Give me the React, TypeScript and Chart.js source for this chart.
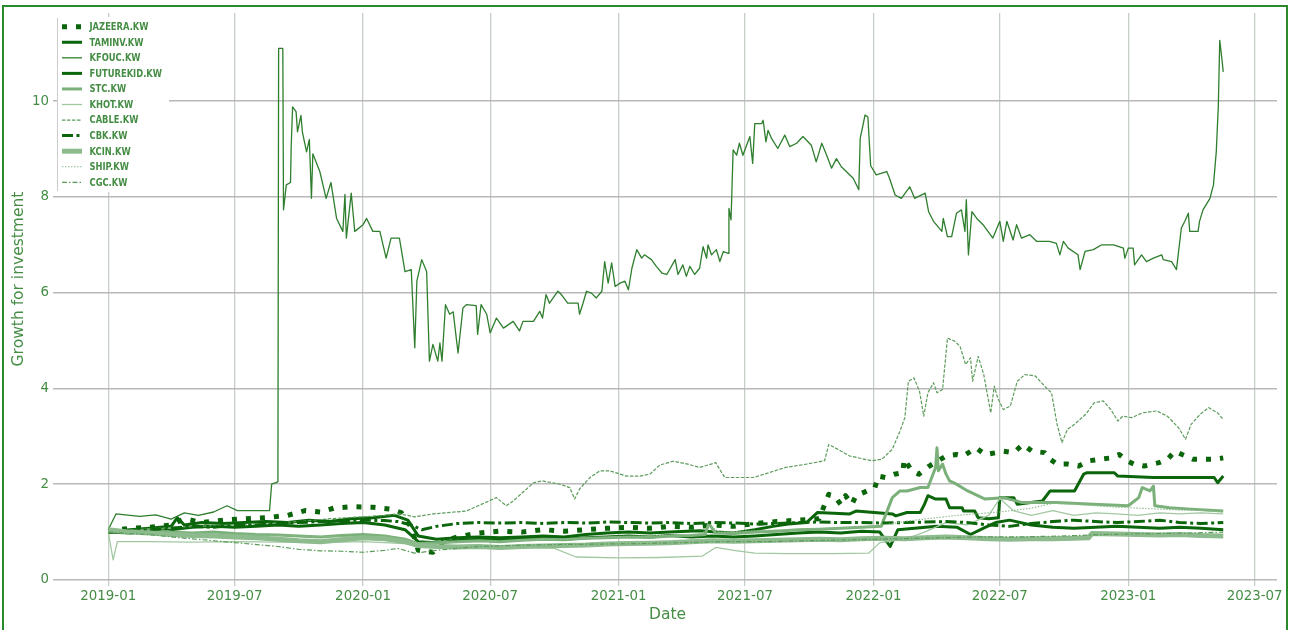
import React, { useEffect, useRef } from 'react';
import { Chart, registerables } from 'chart.js';

Chart.register(...registerables);

// ---------- data ----------
const X_TICKS = ['2019-01', '2019-07', '2020-01', '2020-07', '2021-01', '2021-07', '2022-01', '2022-07', '2023-01', '2023-07'];
const Y_TICKS = [0, 2, 4, 6, 8, 10];
const X_RANGE = ['2018-10-21', '2023-08-02'];
const Y_RANGE = [0, 11.84];

const SERIES_NAMES = ['JAZEERA.KW', 'TAMINV.KW', 'KFOUC.KW', 'FUTUREKID.KW', 'STC.KW', 'KHOT.KW', 'CABLE.KW', 'CBK.KW', 'KCIN.KW', 'SHIP.KW', 'CGC.KW'];

type P = [string, number];

const JAZEERA: P[] = [
  ['2019-01-01', 1.02], ['2019-02-01', 1.08], ['2019-03-01', 1.1], ['2019-04-01', 1.15], ['2019-04-20', 1.28], ['2019-05-15', 1.2],
  ['2019-06-15', 1.25], ['2019-07-15', 1.28], ['2019-08-15', 1.3], ['2019-09-15', 1.35], ['2019-10-10', 1.45], ['2019-11-01', 1.42],
  ['2019-11-20', 1.5], ['2019-12-15', 1.53], ['2020-01-15', 1.52], ['2020-02-10', 1.48], ['2020-02-25', 1.4], ['2020-03-10', 1.1],
  ['2020-03-20', 0.62], ['2020-04-10', 0.58], ['2020-04-25', 0.8], ['2020-05-15', 0.9], ['2020-06-15', 0.98], ['2020-07-15', 1.02],
  ['2020-08-15', 1.0], ['2020-09-15', 1.05], ['2020-10-15', 1.02], ['2020-11-15', 1.05], ['2020-12-15', 1.08], ['2021-01-15', 1.1],
  ['2021-02-15', 1.08], ['2021-03-15', 1.12], ['2021-04-15', 1.1], ['2021-05-15', 1.15], ['2021-06-15', 1.12], ['2021-07-15', 1.18],
  ['2021-08-15', 1.22], ['2021-09-15', 1.25], ['2021-10-15', 1.28], ['2021-10-29', 1.79], ['2021-11-07', 1.74], ['2021-11-15', 1.58],
  ['2021-11-22', 1.76], ['2021-12-01', 1.58], ['2021-12-07', 1.76], ['2022-01-03', 1.93], ['2022-01-08', 2.17], ['2022-01-18', 2.14],
  ['2022-01-31', 2.21], ['2022-02-12', 2.24], ['2022-02-14', 2.52], ['2022-02-25', 2.28], ['2022-03-07', 2.21], ['2022-03-22', 2.38],
  ['2022-04-15', 2.59], ['2022-04-30', 2.62], ['2022-05-10', 2.59], ['2022-05-28', 2.76], ['2022-06-10', 2.62], ['2022-06-26', 2.66],
  ['2022-07-06', 2.69], ['2022-07-21', 2.66], ['2022-08-03', 2.83], ['2022-08-16', 2.69], ['2022-09-03', 2.66], ['2022-09-11', 2.52],
  ['2022-09-21', 2.42], ['2022-10-06', 2.42], ['2022-10-22', 2.38], ['2022-11-06', 2.49], ['2022-11-21', 2.52], ['2022-12-07', 2.55],
  ['2022-12-19', 2.62], ['2022-12-30', 2.49], ['2023-01-09', 2.42], ['2023-01-24', 2.38], ['2023-02-14', 2.45], ['2023-02-26', 2.52],
  ['2023-03-09', 2.69], ['2023-03-19', 2.62], ['2023-04-04', 2.52], ['2023-04-19', 2.52], ['2023-05-04', 2.52], ['2023-05-17', 2.55],
];

const TAMINV: P[] = [
  ['2019-01-01', 1.0], ['2019-02-01', 1.05], ['2019-03-01', 1.08], ['2019-04-01', 1.12], ['2019-04-10', 1.3], ['2019-04-20', 1.15],
  ['2019-05-15', 1.2], ['2019-06-15', 1.18], ['2019-07-15', 1.2], ['2019-08-15', 1.22], ['2019-09-15', 1.2], ['2019-10-15', 1.25],
  ['2019-11-15', 1.22], ['2019-12-15', 1.28], ['2020-01-15', 1.3], ['2020-02-15', 1.35], ['2020-03-05', 1.25], ['2020-03-20', 0.92],
  ['2020-04-15', 0.85], ['2020-05-15', 0.88], ['2020-06-15', 0.9], ['2020-07-15', 0.88], ['2020-08-15', 0.9], ['2020-09-15', 0.92],
  ['2020-10-15', 0.9], ['2020-11-15', 0.95], ['2020-12-15', 0.98], ['2021-01-15', 1.0], ['2021-02-15', 0.98], ['2021-03-15', 1.0],
  ['2021-04-27', 1.03], ['2021-05-20', 1.0], ['2021-06-15', 0.98], ['2021-07-15', 1.05], ['2021-08-10', 1.12], ['2021-09-01', 1.17],
  ['2021-09-27', 1.2], ['2021-10-13', 1.41], ['2021-11-28', 1.38], ['2021-12-07', 1.44], ['2022-01-28', 1.38], ['2022-02-02', 1.34],
  ['2022-02-18', 1.41], ['2022-03-09', 1.41], ['2022-03-15', 1.58], ['2022-03-20', 1.76], ['2022-03-31', 1.69], ['2022-04-15', 1.69],
  ['2022-04-20', 1.51], ['2022-05-08', 1.51], ['2022-05-10', 1.44], ['2022-05-26', 1.44], ['2022-05-31', 1.3], ['2022-06-15', 1.28],
  ['2022-06-29', 1.3], ['2022-07-01', 1.72], ['2022-07-21', 1.72], ['2022-07-26', 1.58], ['2022-08-31', 1.65], ['2022-09-11', 1.86],
  ['2022-10-16', 1.86], ['2022-10-29', 2.21], ['2022-11-03', 2.24], ['2022-12-12', 2.24], ['2022-12-17', 2.17], ['2023-02-06', 2.14],
  ['2023-05-04', 2.14], ['2023-05-09', 2.03], ['2023-05-17', 2.17],
];

const KFOUC: P[] = [
  ['2019-01-01', 1.05], ['2019-01-12', 1.38], ['2019-02-15', 1.33], ['2019-03-10', 1.36], ['2019-04-01', 1.27], ['2019-04-20', 1.4],
  ['2019-05-10', 1.35], ['2019-06-01', 1.42], ['2019-06-20', 1.55], ['2019-07-05', 1.45], ['2019-07-25', 1.45], ['2019-08-20', 1.45],
  ['2019-08-23', 2.0], ['2019-09-01', 2.05], ['2019-09-02', 11.1], ['2019-09-08', 11.1], ['2019-09-09', 7.73], ['2019-09-13', 8.25],
  ['2019-09-19', 8.3], ['2019-09-20', 9.05], ['2019-09-22', 9.88], ['2019-09-27', 9.78], ['2019-09-29', 9.36], ['2019-10-04', 9.7],
  ['2019-10-06', 9.36], ['2019-10-12', 8.94], ['2019-10-16', 9.2], ['2019-10-19', 7.97], ['2019-10-21', 8.9], ['2019-10-31', 8.53],
  ['2019-11-09', 7.97], ['2019-11-16', 8.3], ['2019-11-24', 7.55], ['2019-12-03', 7.28], ['2019-12-06', 8.05], ['2019-12-08', 7.14],
  ['2019-12-15', 8.08], ['2019-12-20', 7.28], ['2020-01-01', 7.42], ['2020-01-06', 7.55], ['2020-01-15', 7.28], ['2020-01-25', 7.28],
  ['2020-02-03', 6.72], ['2020-02-10', 7.14], ['2020-02-22', 7.14], ['2020-03-01', 6.44], ['2020-03-10', 6.48], ['2020-03-15', 4.85],
  ['2020-03-18', 6.24], ['2020-03-25', 6.69], ['2020-04-01', 6.44], ['2020-04-05', 4.57], ['2020-04-10', 4.92], ['2020-04-17', 4.57],
  ['2020-04-20', 4.95], ['2020-04-23', 4.57], ['2020-04-28', 5.75], ['2020-05-04', 5.55], ['2020-05-09', 5.6], ['2020-05-16', 4.74],
  ['2020-05-23', 5.68], ['2020-05-28', 5.75], ['2020-06-11', 5.73], ['2020-06-13', 5.13], ['2020-06-18', 5.75], ['2020-06-26', 5.55],
  ['2020-07-01', 5.16], ['2020-07-10', 5.47], ['2020-07-20', 5.26], ['2020-08-03', 5.4], ['2020-08-12', 5.2], ['2020-08-17', 5.4],
  ['2020-09-01', 5.4], ['2020-09-10', 5.61], ['2020-09-14', 5.47], ['2020-09-19', 5.96], ['2020-09-24', 5.78], ['2020-10-06', 6.03],
  ['2020-10-11', 5.96], ['2020-10-20', 5.78], ['2020-11-04', 5.78], ['2020-11-06', 5.55], ['2020-11-11', 5.78], ['2020-11-16', 6.03],
  ['2020-11-23', 5.99], ['2020-11-30', 5.89], ['2020-12-08', 6.03], ['2020-12-12', 6.65], ['2020-12-17', 6.2], ['2020-12-22', 6.62],
  ['2020-12-27', 6.13], ['2021-01-03', 6.2], ['2021-01-10', 6.24], ['2021-01-15', 6.06], ['2021-01-20', 6.51], ['2021-01-27', 6.9],
  ['2021-02-03', 6.72], ['2021-02-07', 6.79], ['2021-02-17', 6.69], ['2021-02-24', 6.55], ['2021-03-04', 6.41], ['2021-03-11', 6.38],
  ['2021-03-23', 6.69], ['2021-03-27', 6.38], ['2021-04-03', 6.58], ['2021-04-08', 6.34], ['2021-04-13', 6.55], ['2021-04-20', 6.38],
  ['2021-04-27', 6.51], ['2021-05-02', 6.96], ['2021-05-07', 6.72], ['2021-05-09', 7.0], ['2021-05-14', 6.79], ['2021-05-21', 6.9],
  ['2021-05-26', 6.65], ['2021-05-31', 6.86], ['2021-06-07', 6.82], ['2021-06-08', 7.76], ['2021-06-11', 7.52], ['2021-06-14', 8.98],
  ['2021-06-19', 8.87], ['2021-06-23', 9.12], ['2021-06-28', 8.87], ['2021-07-08', 9.26], ['2021-07-12', 8.7], ['2021-07-15', 9.53],
  ['2021-07-25', 9.53], ['2021-07-27', 9.6], ['2021-07-31', 9.15], ['2021-08-03', 9.39], ['2021-08-08', 9.22], ['2021-08-17', 9.01],
  ['2021-08-27', 9.29], ['2021-09-03', 9.05], ['2021-09-13', 9.12], ['2021-09-22', 9.26], ['2021-10-04', 9.08], ['2021-10-11', 8.73],
  ['2021-10-19', 9.12], ['2021-10-26', 8.87], ['2021-11-02', 8.6], ['2021-11-09', 8.8], ['2021-11-16', 8.63], ['2021-11-26', 8.49],
  ['2021-12-03', 8.39], ['2021-12-11', 8.15], ['2021-12-13', 9.22], ['2021-12-20', 9.71], ['2021-12-24', 9.67], ['2021-12-28', 8.65],
  ['2022-01-05', 8.46], ['2022-01-20', 8.53], ['2022-01-24', 8.39], ['2022-02-01', 8.04], ['2022-02-10', 7.97], ['2022-02-22', 8.21],
  ['2022-03-01', 7.97], ['2022-03-16', 8.08], ['2022-03-21', 7.69], ['2022-03-28', 7.49], ['2022-04-09', 7.28], ['2022-04-11', 7.55],
  ['2022-04-17', 7.17], ['2022-04-23', 7.17], ['2022-04-30', 7.66], ['2022-05-07', 7.73], ['2022-05-12', 7.28], ['2022-05-14', 7.94],
  ['2022-05-17', 6.79], ['2022-05-22', 7.69], ['2022-05-29', 7.55], ['2022-06-07', 7.42], ['2022-06-14', 7.28], ['2022-06-21', 7.14],
  ['2022-07-01', 7.49], ['2022-07-06', 7.07], ['2022-07-11', 7.49], ['2022-07-20', 7.1], ['2022-07-25', 7.42], ['2022-08-01', 7.14],
  ['2022-08-13', 7.21], ['2022-08-23', 7.07], ['2022-09-10', 7.07], ['2022-09-20', 7.03], ['2022-09-25', 6.79], ['2022-09-30', 7.07],
  ['2022-10-07', 6.93], ['2022-10-21', 6.79], ['2022-10-24', 6.48], ['2022-10-31', 6.86], ['2022-11-12', 6.9], ['2022-11-24', 7.0],
  ['2022-12-11', 7.0], ['2022-12-25', 6.93], ['2022-12-27', 6.72], ['2023-01-01', 6.93], ['2023-01-08', 6.93], ['2023-01-10', 6.58],
  ['2023-01-20', 6.79], ['2023-01-27', 6.65], ['2023-02-06', 6.72], ['2023-02-18', 6.79], ['2023-02-20', 6.69], ['2023-03-04', 6.65],
  ['2023-03-11', 6.48], ['2023-03-18', 7.35], ['2023-03-23', 7.49], ['2023-03-28', 7.66], ['2023-03-30', 7.28], ['2023-04-11', 7.28],
  ['2023-04-13', 7.49], ['2023-04-18', 7.73], ['2023-04-28', 7.97], ['2023-05-03', 8.25], ['2023-05-07', 8.94], ['2023-05-10', 9.92],
  ['2023-05-12', 11.27], ['2023-05-15', 10.89], ['2023-05-17', 10.61],
];

const FUTUREKID: P[] = [
  ['2019-01-01', 1.0], ['2019-02-01', 0.98], ['2019-03-01', 1.02], ['2019-04-01', 1.05], ['2019-05-01', 1.1], ['2019-06-01', 1.12],
  ['2019-07-01', 1.1], ['2019-08-01', 1.12], ['2019-09-01', 1.15], ['2019-10-01', 1.12], ['2019-11-01', 1.15], ['2019-12-01', 1.18],
  ['2020-01-01', 1.2], ['2020-02-01', 1.15], ['2020-03-01', 1.05], ['2020-03-20', 0.8], ['2020-04-15', 0.78], ['2020-05-15', 0.82],
  ['2020-06-15', 0.85], ['2020-07-15', 0.83], ['2020-08-15', 0.85], ['2020-09-15', 0.87], ['2020-10-15', 0.85], ['2020-11-15', 0.88],
  ['2020-12-15', 0.9], ['2021-01-15', 0.92], ['2021-02-15', 0.9], ['2021-03-15', 0.93], ['2021-04-15', 0.9], ['2021-05-15', 0.92],
  ['2021-06-15', 0.9], ['2021-07-15', 0.92], ['2021-08-15', 0.95], ['2021-09-15', 0.98], ['2021-10-15', 1.0], ['2021-11-15', 0.98],
  ['2021-12-15', 1.02], ['2022-01-10', 1.0], ['2022-01-25', 0.7], ['2022-02-05', 1.05], ['2022-03-01', 1.08], ['2022-04-01', 1.12],
  ['2022-05-01', 1.1], ['2022-05-20', 0.95], ['2022-06-10', 1.1], ['2022-06-25', 1.2], ['2022-07-15', 1.25], ['2022-08-15', 1.15],
  ['2022-09-15', 1.1], ['2022-10-15', 1.08], ['2022-11-15', 1.1], ['2022-12-15', 1.12], ['2023-01-15', 1.1], ['2023-02-15', 1.08],
  ['2023-03-15', 1.1], ['2023-04-15', 1.08], ['2023-05-17', 1.05],
];

const STC: P[] = [
  ['2019-01-01', 1.0], ['2019-02-01', 1.02], ['2019-03-01', 1.05], ['2019-04-01', 1.0], ['2019-05-01', 0.98], ['2019-06-01', 1.0],
  ['2019-07-01', 0.97], ['2019-08-01', 0.95], ['2019-09-01', 0.94], ['2019-10-01', 0.92], ['2019-11-01', 0.9], ['2019-12-01', 0.93],
  ['2020-01-01', 0.95], ['2020-02-01', 0.92], ['2020-03-01', 0.85], ['2020-03-20', 0.76], ['2020-04-15', 0.78], ['2020-05-15', 0.8],
  ['2020-06-15', 0.82], ['2020-07-15', 0.8], ['2020-08-15', 0.83], ['2020-09-15', 0.85], ['2020-10-15', 0.84], ['2020-11-15', 0.87],
  ['2020-12-15', 0.88], ['2021-01-15', 0.9], ['2021-02-15', 0.89], ['2021-03-15', 0.92], ['2021-04-15', 0.93], ['2021-05-05', 0.95],
  ['2021-05-10', 1.18], ['2021-05-20', 0.98], ['2021-06-15', 0.97], ['2021-07-15', 1.0], ['2021-08-15', 1.02], ['2021-09-15', 1.05],
  ['2021-10-15', 1.06], ['2021-11-15', 1.08], ['2021-12-15', 1.1], ['2022-01-12', 1.12], ['2022-01-28', 1.72], ['2022-02-08', 1.86],
  ['2022-02-18', 1.86], ['2022-03-09', 1.93], ['2022-03-20', 1.93], ['2022-03-31', 2.35], ['2022-04-02', 2.76], ['2022-04-04', 2.28],
  ['2022-04-10', 2.42], ['2022-04-15', 2.21], ['2022-04-20', 2.07], ['2022-04-30', 2.0], ['2022-05-16', 1.86], ['2022-06-10', 1.69],
  ['2022-07-06', 1.72], ['2022-08-01', 1.62], ['2022-09-21', 1.62], ['2022-11-12', 1.58], ['2023-01-01', 1.55], ['2023-01-16', 1.72],
  ['2023-01-21', 1.93], ['2023-02-01', 1.86], ['2023-02-06', 1.96], ['2023-02-08', 1.55], ['2023-03-01', 1.51], ['2023-04-01', 1.48],
  ['2023-05-17', 1.44],
];

const KHOT: P[] = [
  ['2019-01-01', 1.0], ['2019-01-08', 0.42], ['2019-01-14', 0.8], ['2019-03-01', 0.8], ['2019-05-01', 0.79], ['2019-07-01', 0.8],
  ['2019-09-01', 0.79], ['2019-11-01', 0.78], ['2020-01-01', 0.8], ['2020-03-01', 0.76], ['2020-04-01', 0.7], ['2020-06-01', 0.72],
  ['2020-08-01', 0.7], ['2020-10-01', 0.66], ['2020-11-01', 0.48], ['2021-01-01', 0.46], ['2021-03-01', 0.47], ['2021-05-01', 0.5],
  ['2021-05-20', 0.68], ['2021-06-15', 0.62], ['2021-07-15', 0.56], ['2021-09-01', 0.55], ['2021-11-01', 0.55], ['2021-12-25', 0.56],
  ['2022-01-10', 0.78], ['2022-02-15', 0.85], ['2022-03-15', 1.0], ['2022-04-15', 1.2], ['2022-05-15', 1.15], ['2022-06-15', 1.35],
  ['2022-07-01', 1.7], ['2022-07-20', 1.45], ['2022-08-15', 1.35], ['2022-09-15', 1.45], ['2022-10-15', 1.35], ['2022-11-15', 1.4],
  ['2022-12-15', 1.38], ['2023-01-15', 1.35], ['2023-02-15', 1.4], ['2023-03-15', 1.38], ['2023-04-15', 1.4], ['2023-05-17', 1.38],
];

const CABLE: P[] = [
  ['2019-01-01', 1.0], ['2019-02-15', 1.05], ['2019-04-01', 1.1], ['2019-05-15', 1.12], ['2019-07-01', 1.15], ['2019-08-15', 1.18],
  ['2019-10-01', 1.22], ['2019-11-15', 1.28], ['2020-01-01', 1.32], ['2020-02-01', 1.35], ['2020-02-22', 1.38], ['2020-03-15', 1.32],
  ['2020-04-10', 1.38], ['2020-05-28', 1.44], ['2020-06-20', 1.59], ['2020-07-10', 1.72], ['2020-07-24', 1.55], ['2020-08-03', 1.65],
  ['2020-09-01', 2.03], ['2020-09-14', 2.07], ['2020-10-09', 2.0], ['2020-10-23', 1.93], ['2020-10-30', 1.69], ['2020-11-06', 1.9],
  ['2020-11-21', 2.14], ['2020-12-05', 2.28], ['2020-12-19', 2.28], ['2021-01-12', 2.17], ['2021-01-31', 2.17], ['2021-02-15', 2.21],
  ['2021-03-01', 2.4], ['2021-03-20', 2.48], ['2021-04-10', 2.42], ['2021-04-27', 2.35], ['2021-05-20', 2.45], ['2021-06-02', 2.14],
  ['2021-07-13', 2.14], ['2021-08-28', 2.35], ['2021-09-27', 2.42], ['2021-10-23', 2.49], ['2021-10-29', 2.83], ['2021-11-07', 2.76],
  ['2021-11-28', 2.59], ['2021-12-29', 2.49], ['2022-01-13', 2.52], ['2022-01-28', 2.73], ['2022-02-08', 3.11], ['2022-02-15', 3.39],
  ['2022-02-20', 4.15], ['2022-02-28', 4.22], ['2022-03-08', 3.94], ['2022-03-14', 3.42], ['2022-03-20', 3.91], ['2022-03-28', 4.12],
  ['2022-04-02', 3.91], ['2022-04-10', 3.98], ['2022-04-17', 5.05], ['2022-04-27', 4.99], ['2022-05-05', 4.88], ['2022-05-13', 4.5],
  ['2022-05-20', 4.64], ['2022-05-23', 4.15], ['2022-05-31', 4.67], ['2022-06-08', 4.29], ['2022-06-18', 3.49], ['2022-06-23', 4.05],
  ['2022-06-28', 3.8], ['2022-07-06', 3.56], ['2022-07-16', 3.63], ['2022-07-26', 4.15], ['2022-08-06', 4.29], ['2022-08-21', 4.26],
  ['2022-09-03', 4.05], ['2022-09-13', 3.91], ['2022-09-21', 3.25], ['2022-09-28', 2.87], ['2022-10-06', 3.15], ['2022-10-16', 3.25],
  ['2022-11-01', 3.46], ['2022-11-13', 3.7], ['2022-11-26', 3.74], ['2022-12-07', 3.56], ['2022-12-17', 3.32], ['2022-12-24', 3.42],
  ['2023-01-06', 3.39], ['2023-01-21', 3.49], ['2023-02-11', 3.53], ['2023-02-26', 3.42], ['2023-03-14', 3.18], ['2023-03-24', 2.94],
  ['2023-04-01', 3.25], ['2023-04-14', 3.46], ['2023-04-26', 3.6], ['2023-05-09', 3.49], ['2023-05-17', 3.35],
];

const CBK: P[] = [
  ['2019-01-01', 1.0], ['2019-02-01', 1.02], ['2019-03-01', 1.05], ['2019-04-01', 1.08], ['2019-05-01', 1.12], ['2019-06-01', 1.1],
  ['2019-07-01', 1.14], ['2019-08-01', 1.15], ['2019-09-01', 1.18], ['2019-10-01', 1.2], ['2019-11-01', 1.22], ['2019-12-01', 1.24],
  ['2020-01-01', 1.25], ['2020-02-01', 1.24], ['2020-02-20', 1.22], ['2020-03-10', 1.15], ['2020-03-25', 1.05], ['2020-04-15', 1.12],
  ['2020-05-15', 1.18], ['2020-06-15', 1.2], ['2020-07-15', 1.19], ['2020-08-15', 1.2], ['2020-09-15', 1.18], ['2020-10-15', 1.2],
  ['2020-11-15', 1.19], ['2020-12-15', 1.21], ['2021-01-15', 1.2], ['2021-02-15', 1.19], ['2021-03-15', 1.2], ['2021-04-15', 1.18],
  ['2021-05-15', 1.2], ['2021-06-15', 1.19], ['2021-07-15', 1.17], ['2021-08-15', 1.18], ['2021-09-15', 1.2], ['2021-10-15', 1.21],
  ['2021-11-15', 1.2], ['2021-12-15', 1.2], ['2022-01-15', 1.19], ['2022-02-15', 1.2], ['2022-03-15', 1.21], ['2022-04-15', 1.22],
  ['2022-05-15', 1.2], ['2022-06-15', 1.15], ['2022-07-15', 1.12], ['2022-08-15', 1.18], ['2022-09-15', 1.22], ['2022-10-15', 1.25],
  ['2022-11-15', 1.22], ['2022-12-15', 1.2], ['2023-01-15', 1.22], ['2023-02-15', 1.25], ['2023-03-15', 1.2], ['2023-04-15', 1.18],
  ['2023-05-17', 1.2],
];

const KCIN: P[] = [
  ['2019-01-01', 1.05], ['2019-02-01', 1.0], ['2019-03-01', 0.98], ['2019-04-01', 0.95], ['2019-05-01', 0.93], ['2019-06-01', 0.92],
  ['2019-07-01', 0.9], ['2019-08-01', 0.88], ['2019-09-01', 0.85], ['2019-10-01', 0.82], ['2019-11-01', 0.8], ['2019-12-01', 0.84],
  ['2020-01-01', 0.88], ['2020-02-01', 0.86], ['2020-03-01', 0.8], ['2020-03-20', 0.72], ['2020-04-15', 0.7], ['2020-05-15', 0.69],
  ['2020-06-15', 0.7], ['2020-07-15', 0.68], ['2020-08-15', 0.7], ['2020-09-15', 0.71], ['2020-10-15', 0.72], ['2020-11-15', 0.73],
  ['2020-12-15', 0.75], ['2021-01-15', 0.76], ['2021-02-15', 0.77], ['2021-03-15', 0.78], ['2021-04-15', 0.8], ['2021-05-15', 0.82],
  ['2021-06-15', 0.81], ['2021-07-15', 0.82], ['2021-08-15', 0.83], ['2021-09-15', 0.84], ['2021-10-15', 0.85], ['2021-11-15', 0.84],
  ['2021-12-15', 0.86], ['2022-01-15', 0.87], ['2022-02-15', 0.86], ['2022-03-15', 0.88], ['2022-04-15', 0.9], ['2022-05-15', 0.88],
  ['2022-06-15', 0.86], ['2022-07-15', 0.85], ['2022-08-15', 0.86], ['2022-09-15', 0.86], ['2022-10-15', 0.87], ['2022-11-05', 0.88],
  ['2022-11-10', 0.97], ['2022-12-15', 0.96], ['2023-01-15', 0.95], ['2023-02-15', 0.94], ['2023-03-15', 0.95], ['2023-04-15', 0.93],
  ['2023-05-17', 0.92],
];

const SHIP: P[] = [
  ['2019-01-01', 1.0], ['2019-02-01', 1.02], ['2019-04-01', 1.0], ['2019-06-01', 0.96], ['2019-08-01', 0.94], ['2019-10-01', 0.92],
  ['2019-12-01', 0.9], ['2020-02-01', 0.91], ['2020-03-20', 0.75], ['2020-05-01', 0.78], ['2020-07-01', 0.8], ['2020-09-01', 0.84],
  ['2020-11-01', 0.87], ['2021-01-01', 0.9], ['2021-03-01', 0.93], ['2021-05-01', 0.96], ['2021-05-10', 1.15], ['2021-05-25', 1.0],
  ['2021-07-01', 1.02], ['2021-09-01', 1.05], ['2021-11-01', 1.08], ['2022-01-01', 1.12], ['2022-03-01', 1.25], ['2022-05-01', 1.35],
  ['2022-07-01', 1.42], ['2022-08-15', 1.5], ['2022-09-15', 1.6], ['2022-10-15', 1.58], ['2022-11-15', 1.55], ['2022-12-15', 1.52],
  ['2023-01-15', 1.5], ['2023-02-15', 1.48], ['2023-03-15', 1.46], ['2023-04-15', 1.45], ['2023-05-17', 1.42],
];

const CGC: P[] = [
  ['2019-01-01', 1.0], ['2019-02-01', 0.97], ['2019-03-01', 0.95], ['2019-04-01', 0.9], ['2019-05-01', 0.86], ['2019-06-01', 0.82],
  ['2019-07-01', 0.78], ['2019-08-01', 0.74], ['2019-09-01', 0.7], ['2019-10-01', 0.64], ['2019-11-01', 0.61], ['2019-12-01', 0.6],
  ['2020-01-01', 0.58], ['2020-02-01', 0.62], ['2020-02-20', 0.66], ['2020-03-15', 0.56], ['2020-04-15', 0.62], ['2020-05-15', 0.66],
  ['2020-06-15', 0.7], ['2020-08-01', 0.72], ['2020-10-01', 0.74], ['2020-12-01', 0.75], ['2021-02-01', 0.76], ['2021-04-01', 0.78],
  ['2021-06-01', 0.8], ['2021-08-01', 0.8], ['2021-10-01', 0.82], ['2021-12-01', 0.84], ['2022-02-01', 0.86], ['2022-04-01', 0.88],
  ['2022-06-01', 0.9], ['2022-08-01', 0.9], ['2022-10-01', 0.92], ['2022-12-01', 0.95], ['2023-02-01', 0.97], ['2023-04-01', 0.98],
  ['2023-05-17', 1.0],
];

const SERIES_DATA: P[][] = [JAZEERA, TAMINV, KFOUC, FUTUREKID, STC, KHOT, CABLE, CBK, KCIN, SHIP, CGC];

// ---------- styles ----------
const DARK = '#0b650b';
const MID = '#2e7e2e';
const LIGHT = '#8dbb8d';
const TEXT = '#458d45';

const STYLES = [
  { color: DARK, width: 5, dash: [5, 9] },
  { color: DARK, width: 3, dash: [] },
  { color: MID, width: 1.3, dash: [] },
  { color: DARK, width: 3, dash: [] },
  { color: '#7bb07b', width: 3, dash: [] },
  { color: '#a2c8a2', width: 1.3, dash: [] },
  { color: '#5d9c5d', width: 1.2, dash: [3.5, 1.5] },
  { color: DARK, width: 3, dash: [11, 3.5, 3, 3.5] },
  { color: LIGHT, width: 5, dash: [] },
  { color: LIGHT, width: 1.1, dash: [1.5, 1.5] },
  { color: '#5d9c5d', width: 1.2, dash: [5, 2, 1.5, 2] },
];

const FONT = '"DejaVu Sans", sans-serif';

const ymLabel = (v: number) => {
  const d = new Date(v);
  return `${d.getUTCFullYear()}-${String(d.getUTCMonth() + 1).padStart(2, '0')}`;
};

const legendPlugin = {
  id: 'mplLegend',
  afterDraw(chart: any) {
    const ctx = chart.ctx as CanvasRenderingContext2D;
    ctx.save();
    ctx.fillStyle = '#ffffff';
    ctx.fillRect(57, 17, 112, 175);
    ctx.strokeStyle = '#cccccc';
    ctx.lineWidth = 1;
    ctx.beginPath();
    ctx.moveTo(57.5, 18);
    ctx.lineTo(57.5, 191);
    ctx.stroke();
    ctx.font = `bold 11px "Liberation Sans Narrow", "DejaVu Sans Condensed", ${FONT}`;
    const measured = ctx.measureText(SERIES_NAMES[0]).width;
    const k = Math.min(1, 59 / measured);
    SERIES_NAMES.forEach((name, i) => {
      const st = STYLES[i];
      const y = 26.7 + i * 15.56;
      ctx.setLineDash(st.dash);
      ctx.lineCap = 'butt';
      ctx.lineWidth = st.width;
      ctx.strokeStyle = st.color;
      ctx.beginPath();
      ctx.moveTo(62, y);
      ctx.lineTo(82, y);
      ctx.stroke();
      ctx.setLineDash([]);
      ctx.save();
      ctx.translate(89.5, y + 0.5);
      ctx.scale(k, 1);
      ctx.fillStyle = TEXT;
      ctx.textBaseline = 'middle';
      ctx.textAlign = 'left';
      ctx.fillText(name, 0, 0);
      ctx.restore();
    });
    // y-axis title
    ctx.save();
    ctx.translate(19, 279);
    ctx.rotate(-Math.PI / 2);
    ctx.font = `15.5px ${FONT}`;
    ctx.fillStyle = TEXT;
    ctx.textAlign = 'center';
    ctx.textBaseline = 'middle';
    ctx.fillText('Growth for investment', 0, 0);
    ctx.restore();
    ctx.restore();
  },
};

export default function App() {
  const ref = useRef<HTMLCanvasElement | null>(null);

  useEffect(() => {
    if (!ref.current) return;
    const datasets = SERIES_DATA.map((series, i) => ({
      label: SERIES_NAMES[i],
      data: series.map(([d, v]) => ({ x: Date.parse(d), y: v })),
      borderColor: STYLES[i].color,
      backgroundColor: STYLES[i].color,
      borderWidth: STYLES[i].width,
      borderDash: STYLES[i].dash,
      borderCapStyle: 'butt',
      borderJoinStyle: 'round',
      pointRadius: 0,
      tension: 0,
      fill: false,
      order: SERIES_NAMES.length - i,
    }));

    const chart = new Chart(ref.current, {
      type: 'line',
      data: { datasets },
      options: {
        animation: false,
        responsive: false,
        maintainAspectRatio: false,
        layout: { padding: { left: 0, top: 13, right: 12, bottom: 0 } },
        plugins: { legend: { display: false }, tooltip: { enabled: false } },
        scales: {
          x: {
            type: 'linear',
            min: Date.parse(X_RANGE[0]),
            max: Date.parse(X_RANGE[1]),
            afterFit: (s: any) => { s.height = 50; },
            afterBuildTicks: (s: any) => { s.ticks = X_TICKS.map((t) => ({ value: Date.parse(t + '-01') })); },
            ticks: {
              callback: (v: any) => ymLabel(Number(v)),
              color: TEXT,
              font: { family: FONT, size: 13.4 },
              padding: 2,
              maxRotation: 0,
              autoSkip: false,
            },
            grid: { color: '#c6cfc6', lineWidth: 1.3, tickLength: 6 },
            border: { display: false },
            title: { display: true, text: 'Date', color: TEXT, font: { family: FONT, size: 15.5 }, padding: { top: 0, bottom: 6 } },
          },
          y: {
            min: Y_RANGE[0],
            max: Y_RANGE[1],
            afterFit: (s: any) => { s.width = 58; },
            afterBuildTicks: (s: any) => { s.ticks = Y_TICKS.map((v) => ({ value: v })); },
            ticks: { color: TEXT, font: { family: FONT, size: 13.4 }, padding: 4 },
            grid: { color: '#b8b8b8', lineWidth: 1.5, tickLength: 5 },
            border: { display: false },
          },
        },
      },
      plugins: [legendPlugin],
    } as any);
    return () => chart.destroy();
  }, []);

  return (
    <div style={{ position: 'absolute', left: 0, top: 0, width: 1289, height: 630, background: '#ffffff', overflow: 'hidden' }}>
      <canvas ref={ref} width={1289} height={630} style={{ position: 'absolute', left: 0, top: 0, width: 1289, height: 630 }} />
      <div
        style={{
          position: 'absolute', left: 2, top: 5, width: 1286, height: 640,
          border: '2px solid #2a8a2a', boxSizing: 'border-box', pointerEvents: 'none',
        }}
      />
    </div>
  );
}
